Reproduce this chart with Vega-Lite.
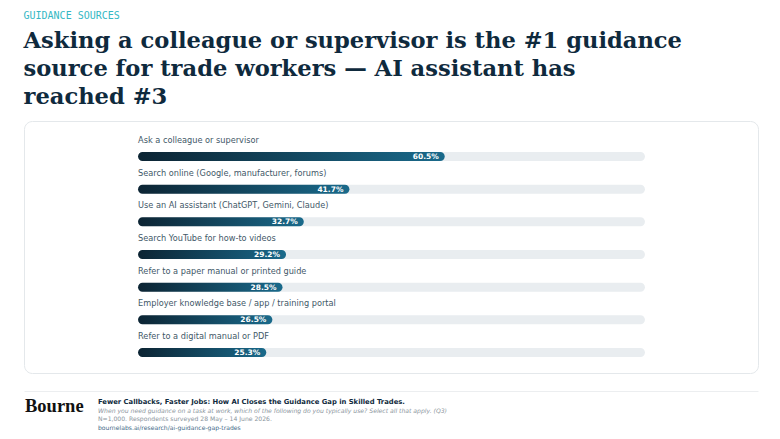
{
  "$schema": "https://vega.github.io/schema/vega-lite/v6.json",
  "background": "white",
  "padding": {"left": 23, "top": 10, "right": 23, "bottom": 0},
  "title": {
    "text": "GUIDANCE SOURCES",
    "subtitle": ["Asking a colleague or supervisor is the #1 guidance", "source for trade workers — AI assistant has", "reached #3"],
    "anchor": "start",
    "frame": "bounds",
    "font": "DejaVu Sans Mono",
    "fontSize": 10,
    "fontWeight": "normal",
    "color": "#35b8c4",
    "subtitleFont": "DejaVu Serif",
    "subtitleFontSize": 22.6,
    "subtitleFontWeight": "bold",
    "subtitleColor": "#0f2a3d",
    "subtitleLineHeight": 28,
    "subtitlePadding": 9,
    "offset": 12
  },
  "config": {
    "view": {"stroke": "#e4e8eb", "cornerRadius": 8, "fill": "white"},
    "font": "DejaVu Sans"
  },
  "spacing": 2,
  "vconcat": [
    {
      "width": 734,
      "height": 252,
      "data": {
        "values": [
          {"label": "Ask a colleague or supervisor", "value": 60.5},
          {"label": "Search online (Google, manufacturer, forums)", "value": 41.7},
          {"label": "Use an AI assistant (ChatGPT, Gemini, Claude)", "value": 32.7},
          {"label": "Search YouTube for how-to videos", "value": 29.2},
          {"label": "Refer to a paper manual or printed guide", "value": 28.5},
          {"label": "Employer knowledge base / app / training portal", "value": 26.5},
          {"label": "Refer to a digital manual or PDF", "value": 25.3}
        ]
      },
      "transform": [{"calculate": "format(datum.value, '.1f') + '%'", "as": "valueText"}],
      "encoding": {
        "y": {"field": "label", "type": "nominal", "sort": null, "axis": null,
              "scale": {"type": "band", "paddingInner": 0, "paddingOuter": 0.357}}
      },
      "layer": [
        {
          "mark": {"type": "bar", "height": 9, "cornerRadius": 4.5, "yOffset": 7.5, "color": "#e9edf0"},
          "encoding": {
            "x": {"datum": 100, "type": "quantitative",
                  "axis": {"orient": "bottom", "offset": 18, "labels": false, "ticks": false, "grid": false, "title": null, "domainColor": "#eceef0", "domainWidth": 1},
                  "scale": {"domain": [-22.5, 122.3], "zero": false, "nice": false}},
            "x2": {"datum": 0}
          }
        },
        {
          "mark": {"type": "bar", "height": 9, "cornerRadius": 4.5, "yOffset": 7.5,
                   "color": {"gradient": "linear", "x1": 0, "x2": 1, "y1": 0, "y2": 0,
                             "stops": [{"offset": 0, "color": "#0c2433"}, {"offset": 1, "color": "#1a6a8b"}]}},
          "encoding": {
            "x": {"field": "value", "type": "quantitative"},
            "x2": {"datum": 0}
          }
        },
        {
          "mark": {"type": "text", "align": "left", "baseline": "alphabetic", "yOffset": -6, "fontSize": 8.2, "color": "#3f5868"},
          "encoding": {
            "x": {"datum": 0, "type": "quantitative"},
            "text": {"field": "label"}
          }
        },
        {
          "mark": {"type": "text", "align": "right", "baseline": "middle", "yOffset": 8, "dx": -6, "fontSize": 7.5, "fontWeight": "bold", "color": "white"},
          "encoding": {
            "x": {"field": "value", "type": "quantitative"},
            "text": {"field": "valueText"}
          }
        }
      ]
    },
    {
      "width": 734,
      "height": 42,
      "view": {"stroke": null, "fill": null},
      "data": {
        "values": [
          {"col": "logo", "line": "1", "kind": "logo", "text": "Bourne"},
          {"col": "note", "line": "1", "kind": "head", "text": "Fewer Callbacks, Faster Jobs: How AI Closes the Guidance Gap in Skilled Trades."},
          {"col": "note", "line": "2", "kind": "question", "text": "When you need guidance on a task at work, which of the following do you typically use? Select all that apply. (Q3)"},
          {"col": "note", "line": "3", "kind": "sample", "text": "N=1,000. Respondents surveyed 28 May – 14 June 2026."},
          {"col": "note", "line": "4", "kind": "link", "text": "bournelabs.ai/research/ai-guidance-gap-trades"}
        ]
      },
      "encoding": {
        "x": {"field": "col", "type": "nominal", "axis": null,
              "scale": {"type": "point", "domain": ["logo", "note"], "range": [1, 74], "padding": 0}},
        "y": {"field": "line", "type": "ordinal", "axis": null,
              "scale": {"type": "point", "domain": ["1", "2", "3", "4"], "padding": 1}},
        "text": {"field": "text"}
      },
      "layer": [
        {
          "transform": [{"filter": "datum.kind === 'logo'"}],
          "mark": {"type": "text", "align": "left", "baseline": "middle", "dy": 4, "font": "Liberation Serif", "fontSize": 18.5, "fontWeight": "bold", "color": "#111111"}
        },
        {
          "transform": [{"filter": "datum.kind === 'head'"}],
          "mark": {"type": "text", "align": "left", "baseline": "middle", "fontSize": 6.8, "fontWeight": "bold", "color": "#0f2a3d"}
        },
        {
          "transform": [{"filter": "datum.kind === 'question'"}],
          "mark": {"type": "text", "align": "left", "baseline": "middle", "fontSize": 6.1, "fontStyle": "italic", "color": "#8a949c"}
        },
        {
          "transform": [{"filter": "datum.kind === 'sample'"}],
          "mark": {"type": "text", "align": "left", "baseline": "middle", "fontSize": 6.1, "color": "#8a949c"}
        },
        {
          "transform": [{"filter": "datum.kind === 'link'"}],
          "mark": {"type": "text", "align": "left", "baseline": "middle", "fontSize": 6.1, "color": "#3f6a88"}
        }
      ]
    }
  ]
}
